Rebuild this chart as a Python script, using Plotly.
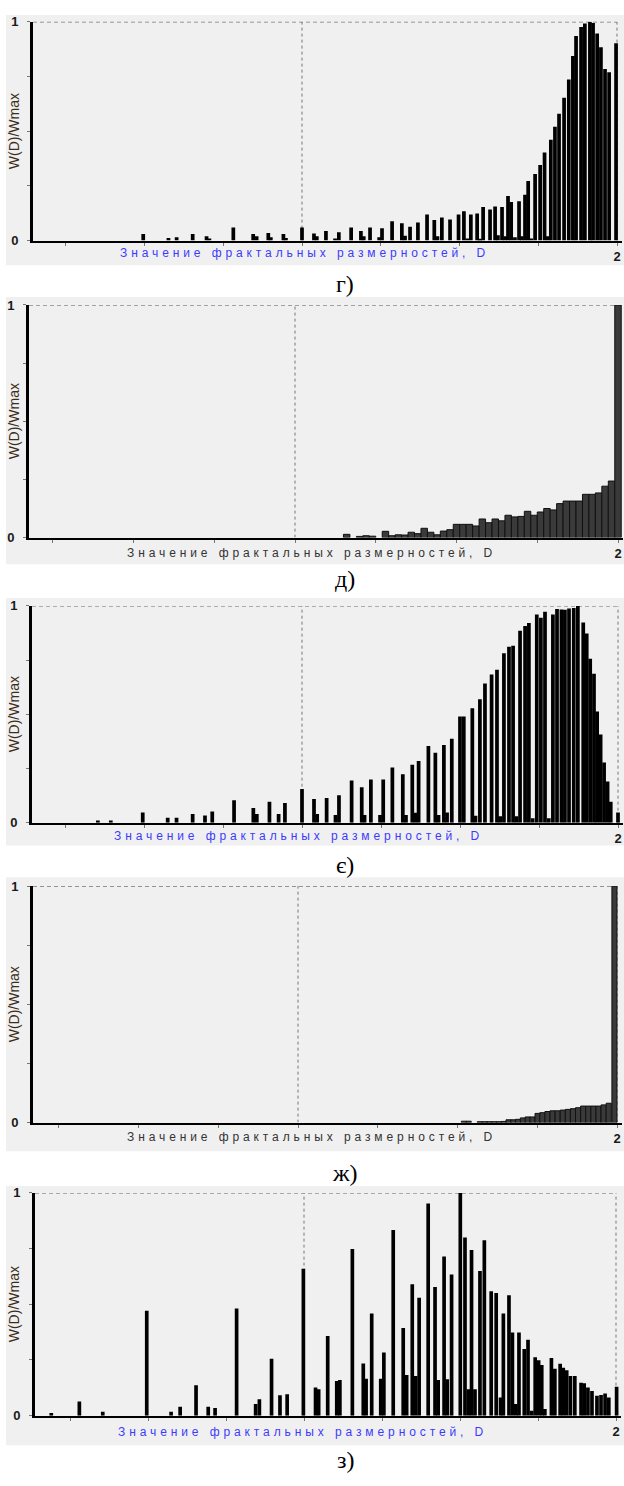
import plotly.graph_objects as go

W, H = 624, 1486

# ---------------- data (D value, W(D)/Wmax) ----------------
# panel г)
g_d = [0.496, 0.576, 0.602, 0.653, 0.697, 0.706, 0.782, 0.845, 0.856, 0.893, 0.901, 0.941, 0.949,
       1.000, 1.038, 1.047, 1.076, 1.105, 1.117, 1.156, 1.187, 1.196, 1.216, 1.245, 1.254, 1.286,
       1.317, 1.327, 1.343, 1.368, 1.397, 1.420, 1.430, 1.444, 1.470, 1.497, 1.514, 1.525, 1.536,
       1.556, 1.565, 1.575, 1.597, 1.613, 1.622, 1.635, 1.645, 1.654, 1.664, 1.676, 1.689, 1.698,
       1.708, 1.718, 1.728, 1.740, 1.756, 1.770, 1.780, 1.790, 1.803, 1.816, 1.832, 1.847, 1.860,
       1.870, 1.886, 1.898, 1.914, 1.924, 1.937, 1.949, 1.962, 1.975, 1.997]
g_w = [0.030, 0.012, 0.015, 0.030, 0.020, 0.010, 0.060, 0.030, 0.020, 0.035, 0.015, 0.030, 0.012,
       0.060, 0.033, 0.020, 0.044, 0.010, 0.038, 0.060, 0.044, 0.020, 0.060, 0.015, 0.056, 0.089,
       0.079, 0.022, 0.063, 0.083, 0.119, 0.094, 0.020, 0.106, 0.097, 0.119, 0.134, 0.010, 0.119,
       0.124, 0.008, 0.154, 0.142, 0.156, 0.025, 0.154, 0.020, 0.204, 0.177, 0.015, 0.180, 0.020,
       0.210, 0.272, 0.010, 0.305, 0.346, 0.403, 0.020, 0.461, 0.521, 0.580, 0.653, 0.736, 0.844,
       0.935, 0.977, 0.992, 1.000, 0.995, 0.947, 0.884, 0.784, 0.770, 0.902]

# panel д)
d_d = [1.16, 1.20, 1.22, 1.24, 1.28, 1.30, 1.32, 1.34, 1.36, 1.38, 1.40, 1.42, 1.44, 1.46, 1.48,
       1.50, 1.52, 1.54, 1.56, 1.58, 1.60, 1.62, 1.64, 1.66, 1.68, 1.70, 1.72, 1.74, 1.76, 1.78,
       1.80, 1.82, 1.84, 1.86, 1.88, 1.90, 1.92, 1.94, 1.96, 1.98, 2.00]
d_w = [0.014, 0.005, 0.008, 0.006, 0.027, 0.008, 0.012, 0.011, 0.023, 0.017, 0.040, 0.023, 0.012,
       0.028, 0.034, 0.057, 0.057, 0.057, 0.050, 0.080, 0.064, 0.080, 0.072, 0.096, 0.089, 0.091,
       0.113, 0.096, 0.110, 0.125, 0.119, 0.146, 0.157, 0.157, 0.157, 0.186, 0.186, 0.192, 0.221,
       0.243, 1.000]

# panel є)
e_d = [0.354, 0.395, 0.496, 0.575, 0.603, 0.654, 0.693, 0.716, 0.785, 0.846, 0.857, 0.897, 0.926,
       0.946, 1.000, 1.038, 1.048, 1.078, 1.106, 1.117, 1.157, 1.189, 1.198, 1.218, 1.247, 1.257,
       1.286, 1.319, 1.329, 1.349, 1.359, 1.369, 1.400, 1.422, 1.432, 1.449, 1.459, 1.474, 1.500,
       1.512, 1.539, 1.549, 1.563, 1.579, 1.600, 1.617, 1.627, 1.639, 1.655, 1.668, 1.679, 1.690,
       1.706, 1.718, 1.730, 1.743, 1.756, 1.769, 1.781, 1.794, 1.807, 1.821, 1.832, 1.845, 1.860,
       1.873, 1.890, 1.901, 1.912, 1.924, 1.934, 1.945, 1.956, 1.967, 1.977, 2.000]
e_w = [0.010, 0.010, 0.047, 0.023, 0.023, 0.040, 0.033, 0.052, 0.103, 0.068, 0.040, 0.097, 0.040,
       0.091, 0.155, 0.109, 0.040, 0.114, 0.035, 0.126, 0.194, 0.164, 0.035, 0.199, 0.035, 0.199,
       0.255, 0.223, 0.035, 0.267, 0.046, 0.285, 0.354, 0.323, 0.035, 0.358, 0.047, 0.387, 0.490,
       0.490, 0.528, 0.032, 0.569, 0.642, 0.683, 0.706, 0.030, 0.781, 0.812, 0.816, 0.030, 0.885,
       0.907, 0.921, 0.020, 0.960, 0.945, 0.973, 0.020, 0.960, 0.986, 0.983, 0.982, 0.988, 0.990,
       1.000, 0.923, 0.873, 0.756, 0.687, 0.513, 0.407, 0.278, 0.190, 0.096, 0.047]

# panel ж)
z_d = [1.520, 1.535, 1.570, 1.585, 1.600, 1.615, 1.630, 1.645, 1.660, 1.675, 1.690, 1.705, 1.720,
       1.735, 1.751, 1.766, 1.782, 1.798, 1.814, 1.830, 1.846, 1.862, 1.878, 1.894, 1.910, 1.926,
       1.942, 1.958, 1.974, 1.992]
z_w = [0.006, 0.006, 0.004, 0.004, 0.004, 0.004, 0.004, 0.005, 0.012, 0.012, 0.014, 0.020, 0.024,
       0.024, 0.039, 0.042, 0.047, 0.050, 0.050, 0.053, 0.056, 0.059, 0.063, 0.070, 0.070, 0.070,
       0.070, 0.075, 0.082, 1.000]

# panel з)
s_d = [0.190, 0.280, 0.355, 0.496, 0.574, 0.603, 0.654, 0.693, 0.715, 0.784, 0.845, 0.857, 0.896,
       0.923, 0.946, 0.998, 1.037, 1.047, 1.076, 1.105, 1.115, 1.155, 1.190, 1.199, 1.217, 1.246,
       1.256, 1.286, 1.318, 1.329, 1.347, 1.358, 1.369, 1.398, 1.420, 1.430, 1.449, 1.459, 1.473,
       1.501, 1.516, 1.527, 1.537, 1.548, 1.564, 1.578, 1.600, 1.616, 1.630, 1.639, 1.657, 1.668,
       1.679, 1.689, 1.706, 1.718, 1.730, 1.741, 1.752, 1.762, 1.772, 1.793, 1.804, 1.821, 1.831,
       1.842, 1.854, 1.868, 1.888, 1.898, 1.910, 1.923, 1.939, 1.952, 1.965, 1.977, 2.002]
s_w = [0.012, 0.064, 0.018, 0.471, 0.018, 0.040, 0.136, 0.040, 0.034, 0.481, 0.052, 0.074, 0.255,
       0.092, 0.096, 0.659, 0.126, 0.119, 0.358, 0.156, 0.160, 0.748, 0.234, 0.166, 0.459, 0.166,
       0.284, 0.834, 0.393, 0.182, 0.590, 0.178, 0.529, 0.953, 0.578, 0.160, 0.714, 0.163, 0.634,
       1.000, 0.800, 0.119, 0.744, 0.119, 0.649, 0.788, 0.559, 0.551, 0.081, 0.459, 0.541, 0.373,
       0.052, 0.373, 0.299, 0.341, 0.022, 0.262, 0.249, 0.227, 0.030, 0.259, 0.210, 0.233, 0.215,
       0.204, 0.178, 0.178, 0.148, 0.145, 0.126, 0.111, 0.089, 0.093, 0.099, 0.081, 0.130]

x_tick_vals = [0.25, 0.5, 0.75, 1.0, 1.25, 1.5, 1.75, 2.0]
x_tick_text = ["", "", "", "", "", "", "", "2"]
y_tick_vals = [0, 0.25, 0.5, 0.75, 1.0]
y_tick_text = ["0", "", "", "", "1"]

x_title = "Значение фрактальных размерностей, D"
y_title = "W(D)/Wmax"

# ---------------- layout geometry (pixels) ----------------
panels = [
    dict(d=g_d, w=g_w, style="comb", px=(33, 302, 617), py=(15, 236), bg=(6, 8, 624, 261),
         tcol="#3b3bff", txy=(304, 249), cap="г)", cxy=(345, 280)),
    dict(d=d_d, w=d_w, style="hist", bw=0.02, px=(29, 295, 618), py=(301, 536), bg=(6, 293, 624, 563),
         tcol="#333333", txy=(311, 552), cap="д)", cxy=(345, 578)),
    dict(d=e_d, w=e_w, style="comb", px=(32, 302, 618), py=(605, 824), bg=(6, 597, 624, 847),
         tcol="#3b3bff", txy=(298, 837), cap="є)", cxy=(345, 867)),
    dict(d=z_d, w=z_w, style="hist", bw=0.016, px=(33, 298, 617), py=(888, 1127), bg=(6, 879, 624, 1156),
         tcol="#333333", txy=(311, 1142), cap="ж)", cxy=(345, 1178)),
    dict(d=s_d, w=s_w, style="comb", px=(35, 304, 616), py=(1198, 1423), bg=(6, 1191, 624, 1453),
         tcol="#3b3bff", txy=(302, 1440), cap="з)", cxy=(345, 1468)),
]

fig = go.Figure()
shapes = []
annotations = []
layout_axes = {}
R1 = 2.015

for i, p in enumerate(panels, start=1):
    xl, xm, xr = p["px"]
    s = xr - xm
    r0 = 1 - (xm - xl) / s
    dom_x = [xl / W, (xm + (R1 - 1) * s) / W]
    ytop, ybot = p["py"]
    dom_y = [1 - ybot / H, 1 - ytop / H]
    xa = "x" if i == 1 else f"x{i}"
    ya = "y" if i == 1 else f"y{i}"
    xkey = "xaxis" if i == 1 else f"xaxis{i}"
    ykey = "yaxis" if i == 1 else f"yaxis{i}"

    if p["style"] == "comb":
        fig.add_trace(go.Bar(x=p["d"], y=p["w"], width=0.0118, xaxis=xa, yaxis=ya,
                             marker=dict(color="#000000", line=dict(width=0)), showlegend=False))
    else:
        fig.add_trace(go.Bar(x=p["d"], y=p["w"], width=p["bw"], xaxis=xa, yaxis=ya,
                             marker=dict(color="#3a3a3a", line=dict(color="#111111", width=1)),
                             showlegend=False))

    layout_axes[xkey] = dict(domain=dom_x, range=[r0, R1], anchor=ya, showline=True,
                             linecolor="#000000", linewidth=2, showgrid=False, zeroline=False,
                             tickmode="array", tickvals=x_tick_vals, ticktext=x_tick_text,
                             ticks="outside", ticklen=3, tickcolor="#777777", tickwidth=1,
                             tickfont=dict(family="Liberation Sans", size=13, color="#1a1a1a",
                                           weight="bold"),
                             fixedrange=True)
    layout_axes[ykey] = dict(domain=dom_y, range=[0, 1], anchor=xa, showline=True,
                             linecolor="#000000", linewidth=3, showgrid=False, zeroline=False,
                             tickmode="array", tickvals=y_tick_vals, ticktext=y_tick_text,
                             ticks="outside", ticklen=3, tickcolor="#777777", tickwidth=1,
                             ticklabelstandoff=6,
                             tickfont=dict(family="Liberation Sans", size=13, color="#1a1a1a",
                                           weight="bold"),
                             fixedrange=True)

    bx0, by0, bx1, by1 = p["bg"]
    shapes.append(dict(type="rect", xref="paper", yref="paper", x0=bx0 / W, x1=bx1 / W,
                       y0=1 - by1 / H, y1=1 - by0 / H, fillcolor="#f0f0f0",
                       line=dict(width=0), layer="below"))
    shapes.append(dict(type="line", xref=xa, yref=ya, x0=r0, x1=2.0, y0=1, y1=1,
                       line=dict(color="#444444", width=1, dash="4px,3px"), layer="below"))
    shapes.append(dict(type="line", xref=xa, yref=ya, x0=2.0, x1=2.0, y0=0, y1=1,
                       line=dict(color="#777777", width=1, dash="3px,3px"), layer="below"))
    shapes.append(dict(type="line", xref=xa, yref=ya, x0=1.0, x1=1.0, y0=0, y1=1,
                       line=dict(color="#777777", width=1, dash="3px,3px"), layer="below"))

    tx, ty = p["txy"]
    annotations.append(dict(xref="paper", yref="paper", x=tx / W, y=1 - ty / H,
                            xanchor="center", yanchor="middle", showarrow=False,
                            text=f'<span style="letter-spacing:3.9px">{x_title}</span>',
                            font=dict(family="Liberation Sans", size=12, color=p["tcol"])))
    annotations.append(dict(xref="paper", yref="paper", x=14 / W, y=1 - (ytop + ybot) / 2 / H,
                            xanchor="center", yanchor="middle", showarrow=False, textangle=-90,
                            text=y_title,
                            font=dict(family="Liberation Sans", size=14, color="#3d2e1a")))
    cx, cy = p["cxy"]
    annotations.append(dict(xref="paper", yref="paper", x=cx / W, y=1 - cy / H,
                            xanchor="center", yanchor="middle", showarrow=False, text=p["cap"],
                            font=dict(family="Liberation Serif", size=24, color="#000000")))

fig.update_layout(
    width=W, height=H,
    margin=dict(l=0, r=0, t=0, b=0),
    paper_bgcolor="#ffffff",
    plot_bgcolor="rgba(0,0,0,0)",
    barmode="overlay",
    showlegend=False,
    shapes=shapes,
    annotations=annotations,
    **layout_axes,
)

fig.write_html("out.html", config={"displayModeBar": False},
               post_script="document.body.style.margin='0';document.body.style.padding='0';")
